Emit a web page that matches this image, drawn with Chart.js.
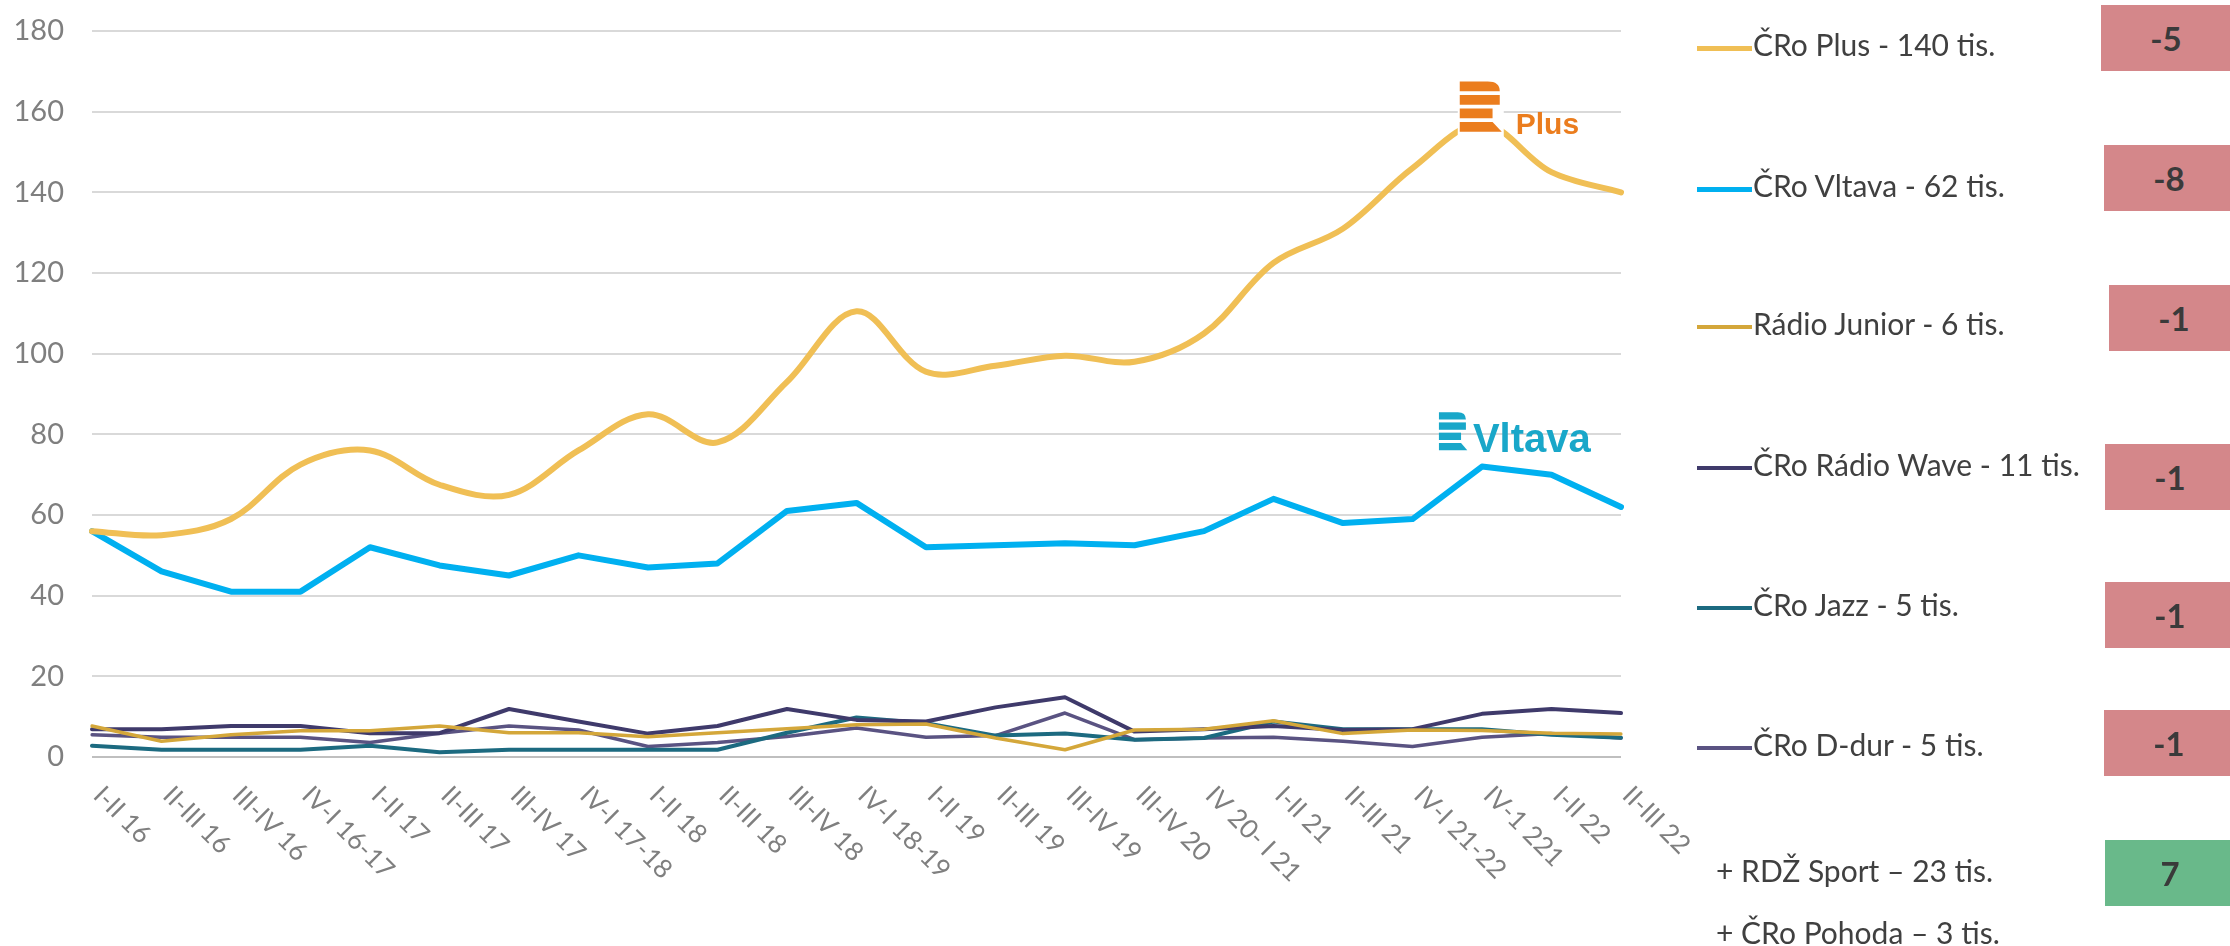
<!DOCTYPE html>
<html lang="cs">
<head>
<meta charset="utf-8">
<title>Poslechovost stanic ČRo</title>
<script src="https://cdn.jsdelivr.net/npm/chart.js@4.4.1/dist/chart.umd.min.js"></script>
<style>
  html, body { margin: 0; padding: 0; background: #fff; }
  #wrap { position: relative; width: 2230px; height: 946px; overflow: hidden; font-family: Lato, "Liberation Sans", sans-serif; }
  #graf { position: absolute; left: 0; top: 0; }
  .radek { position: absolute; left: 1697px; height: 40px; line-height: 40px; font-size: 30px; color: #404040; white-space: nowrap; }
  .radek .cara { display: inline-block; width: 55px; vertical-align: middle; margin-right: 1px; }
  .pozn { position: absolute; left: 1716px; height: 40px; line-height: 40px; font-size: 30px; color: #404040; white-space: nowrap; }
  .zmena { position: absolute; width: 130px; height: 66px; line-height: 66px; text-align: center; font-size: 33px; font-weight: bold; color: #3a3a3a; }
</style>
</head>
<body>
<div id="wrap">
  <canvas id="graf" width="2230" height="946"></canvas>
</div>
<script>
// Obdobi (osa x)
const obdobi = [
  'I-II 16', 'II-III 16', 'III-IV 16', 'IV-I 16-17', 'I-II 17', 'II-III 17', 'III-IV 17', 'IV-I 17-18',
  'I-II 18', 'II-III 18', 'III-IV 18', 'IV-I 18-19', 'I-II 19', 'II-III 19', 'III-IV 19', 'III-IV 20',
  'IV 20- I 21', 'I-II 21', 'II-III 21', 'IV-I 21-22', 'IV-1 221', 'I-II 22', 'II-III 22'
];

// Posluchaci v tis.
const plus   = [56, 55, 59, 72.5, 76, 67.5, 65, 76, 85, 78, 93, 110.5, 95.5, 97, 99.5, 98, 105, 122.5, 131, 146, 157, 145, 140];
const vltava = [56, 46, 41, 41, 52, 47.5, 45, 50, 47, 48, 61, 63, 52, 52.5, 53, 52.5, 56, 64, 58, 59, 72, 70, 62];
const junior = [7.7, 3.9, 5.5, 6.5, 6.5, 7.7, 6, 6, 5, 6, 7, 8, 8.2, 4.7, 1.8, 6.7, 6.9, 9, 5.8, 6.7, 6.6, 5.9, 5.7];
const wave   = [6.9, 6.9, 7.7, 7.7, 5.9, 5.9, 11.9, 8.8, 5.8, 7.7, 11.9, 9.2, 8.8, 12.3, 14.8, 6.3, 6.9, 7.7, 6.7, 6.9, 10.7, 11.9, 10.9];
const jazz   = [2.8, 1.8, 1.8, 1.8, 2.8, 1.2, 1.8, 1.8, 1.8, 1.8, 6, 9.8, 8.4, 5.3, 5.8, 4.3, 4.7, 8.8, 6.9, 6.9, 6.9, 5.5, 4.8];
const ddur   = [5.5, 4.9, 4.9, 4.9, 3.6, 5.9, 7.7, 6.7, 2.6, 3.6, 5.1, 7.2, 4.9, 5.3, 10.9, 4.3, 4.7, 4.9, 3.9, 2.6, 4.9, 5.8, 4.7];

// Legenda a zmeny
const nazvy = ['ČRo Plus - 140 tis.', 'ČRo Vltava - 62 tis.', 'Rádio Junior - 6 tis.', 'ČRo Rádio Wave - 11 tis.', 'ČRo Jazz - 5 tis.', 'ČRo D-dur - 5 tis.'];
const poznamky = ['+ RDŽ Sport – 23 tis.', '+ ČRo Pohoda – 3 tis.'];
const zmeny = [-5, -8, -1, -1, -1, -1, 7];

// Styly
const barvy = ['#F0BF55', '#00B0F0', '#D4A73A', '#3F3A6B', '#1C6A80', '#5A5382'];
const tloustky = [6, 6, 3.5, 4, 4, 3.5];
const vyhlazeni = [0.35, 0, 0, 0, 0, 0];
const radkyY = [44, 185, 323, 464, 604, 744];
const poznamkyY = [870, 932];
const zmenyX = [2101, 2104, 2109, 2105, 2105, 2104, 2105];
const zmenyY = [5, 145, 285, 444, 582, 710, 840];

const rady = [plus, vltava, junior, wave, jazz, ddur];

// Popisky osy x natocene dolu doprava
const popiskyX = {
  id: 'popiskyX',
  afterDraw(chart) {
    const { ctx, scales: { x } } = chart;
    ctx.save();
    ctx.font = '26px Lato';
    ctx.fillStyle = '#7f7f7f';
    ctx.textAlign = 'left';
    ctx.textBaseline = 'middle';
    obdobi.forEach((txt, i) => {
      const px = x.getPixelForValue(i);
      ctx.save();
      ctx.translate(px + 6, x.top + 34);
      ctx.rotate(Math.PI / 4);
      ctx.fillText(txt, 0, 0);
      ctx.restore();
    });
    ctx.restore();
  }
};

// Loga stanic
function kresliLogo(ctx, left, top, w, h, barva) {
  const pruh = h / 4;
  const v = pruh * 0.72;
  ctx.fillStyle = barva;
  for (let k = 0; k < 4; k++) {
    const y0 = top + k * pruh;
    ctx.beginPath();
    if (k === 0) {
      ctx.moveTo(left, y0);
      ctx.lineTo(left + w * 0.7, y0);
      ctx.quadraticCurveTo(left + w, y0, left + w, y0 + v);
      ctx.lineTo(left, y0 + v);
    } else if (k === 3) {
      ctx.moveTo(left, y0);
      ctx.lineTo(left + w * 0.82, y0);
      ctx.lineTo(left + w * 1.05, y0 + v);
      ctx.lineTo(left, y0 + v);
    } else {
      const sirka = k === 2 ? w * 0.82 : w;
      ctx.rect(left, y0, sirka, v);
    }
    ctx.closePath();
    ctx.fill();
  }
}

const loga = {
  id: 'loga',
  afterDatasetsDraw(chart) {
    const { ctx, scales: { x, y } } = chart;
    ctx.save();
    // Plus (logo ma bile pozadi)
    let lx = x.getPixelForValue(19.68), ly = y.getPixelForValue(167.5);
    ctx.fillStyle = '#fff';
    ctx.fillRect(lx - 2, ly - 2, 46, 58);
    kresliLogo(ctx, lx, ly, 40, 54, '#EB7D1E');
    ctx.font = 'bold 30px "Liberation Sans"';
    ctx.textBaseline = 'alphabetic';
    ctx.fillText('Plus', lx + 56, ly + 53);
    // Vltava
    lx = x.getPixelForValue(19.38); ly = y.getPixelForValue(85.5);
    kresliLogo(ctx, lx, ly, 27, 41, '#19A7C9');
    ctx.font = 'bold 40px "Liberation Sans"';
    ctx.fillText('Vltava', lx + 34, ly + 40);
    ctx.restore();
  }
};

const ctx = document.getElementById('graf').getContext('2d');
new Chart(ctx, {
  type: 'line',
  data: {
    labels: obdobi,
    datasets: rady.map((data, i) => ({
      label: nazvy[i],
      data,
      borderColor: barvy[i],
      backgroundColor: barvy[i],
      borderWidth: tloustky[i],
      tension: vyhlazeni[i],
      pointRadius: 0,
      borderCapStyle: 'round',
      borderJoinStyle: 'round',
      fill: false
    }))
  },
  options: {
    responsive: false,
    animation: false,
    layout: { padding: { top: 31, right: 609, left: 0, bottom: 0 } },
    plugins: {
      legend: { display: false },
      tooltip: { enabled: false }
    },
    scales: {
      x: {
        offset: false,
        grid: { display: false },
        border: { display: false },
        ticks: { display: false },
        afterFit: scale => { scale.height = 189; }
      },
      y: {
        min: 0,
        max: 180,
        border: { display: false },
        grid: {
          drawTicks: false,
          lineWidth: 2,
          color: c => c.tick.value === 0 ? '#BFBFBF' : '#D9D9D9'
        },
        ticks: {
          stepSize: 20,
          padding: 28,
          color: '#7f7f7f',
          font: { family: 'Lato', size: 29 }
        },
        afterFit: scale => {
          scale.width = 92;
          scale.paddingTop = 0;
          scale.paddingBottom = 0;
        }
      }
    }
  },
  plugins: [popiskyX, loga]
});

// Legenda vpravo
const wrap = document.getElementById('wrap');
nazvy.forEach((txt, i) => {
  const el = document.createElement('div');
  el.className = 'radek';
  el.style.top = (radkyY[i] - 20) + 'px';
  const cara = document.createElement('span');
  cara.className = 'cara';
  cara.style.height = (i < 2 ? 5 : 4) + 'px';
  cara.style.background = barvy[i];
  el.appendChild(cara);
  el.appendChild(document.createTextNode(txt));
  wrap.appendChild(el);
});
poznamky.forEach((txt, i) => {
  const el = document.createElement('div');
  el.className = 'pozn';
  el.style.top = (poznamkyY[i] - 20) + 'px';
  el.textContent = txt;
  wrap.appendChild(el);
});
zmeny.forEach((z, i) => {
  const el = document.createElement('div');
  el.className = 'zmena';
  el.style.left = zmenyX[i] + 'px';
  el.style.top = zmenyY[i] + 'px';
  el.style.background = z < 0 ? '#D4878A' : '#69B98A';
  el.textContent = z;
  wrap.appendChild(el);
});
</script>
</body>
</html>
